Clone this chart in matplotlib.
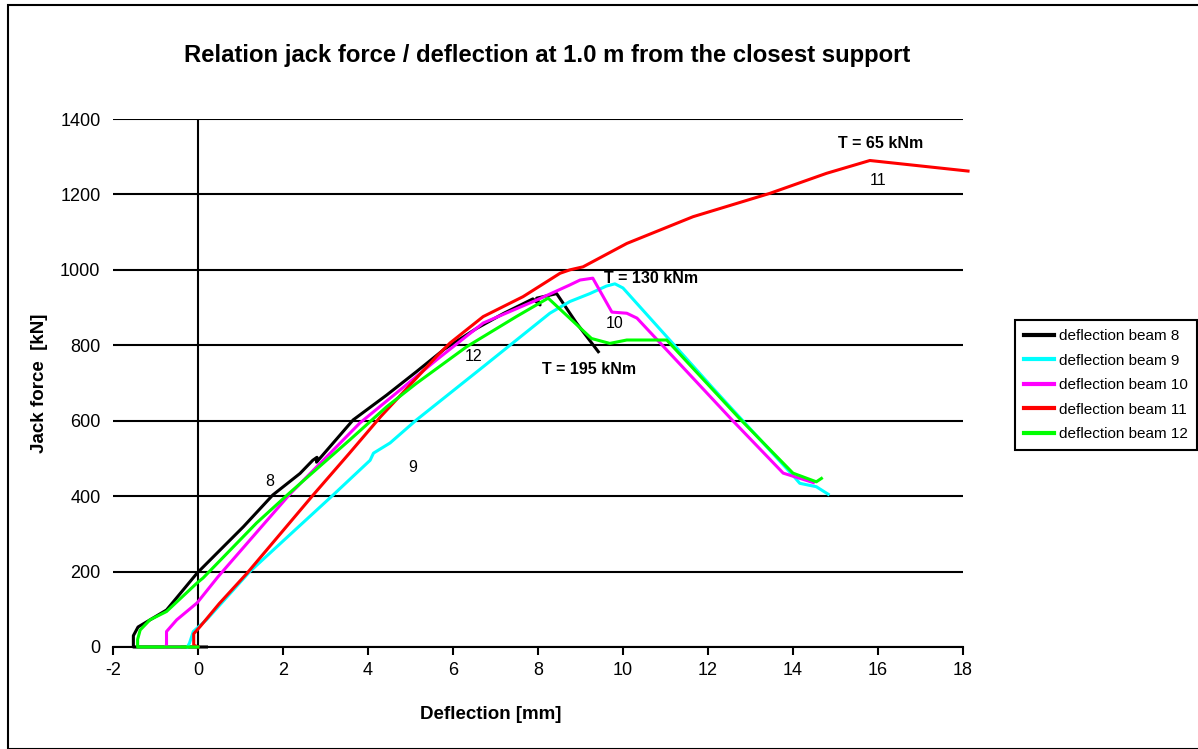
"""Jack force versus deflection at 1.0 m from the closest support, beams 8-12."""

import matplotlib.pyplot as plt
from matplotlib.patches import Rectangle

plt.rcParams["font.family"] = ["Liberation Sans", "DejaVu Sans"]
plt.rcParams["axes.unicode_minus"] = False

# deflection [mm] / jack force [kN]
beam8_x = [0.2, -1.52, -1.52, -1.41, -0.74, -0.02, 0.44, 1.07, 1.76, 2.4, 2.7, 2.8, 2.79,
           3.65, 4.44, 5.14, 5.8, 6.56, 7.2, 7.88, 8.05, 7.97, 8.44, 8.9, 9.42]
beam8_y = [0, 0, 30, 53, 98, 196, 248, 319, 403, 460, 495, 503, 490,
           602, 668, 730, 790, 845, 885, 923, 907, 925, 937, 860, 783]

beam9_x = [-0.25, -0.2, -0.11, 0.2, 1.22, 3.18, 4.05, 4.13, 4.52, 5.14, 6.71, 8.28, 8.75,
           9.22, 9.61, 9.81, 10.0, 12.12, 14.0, 14.16, 14.55, 14.83]
beam9_y = [0, 10, 41, 72, 200, 403, 495, 514, 541, 602, 743, 885, 916,
           937, 957, 963, 952, 686, 455, 434, 425, 405]

beam10_x = [-0.45, -0.78, -0.74, -0.74, -0.5, -0.02, 0.47, 2.16, 3.81, 4.47, 5.61, 6.71, 7.97,
            8.75, 8.99, 9.29, 9.74, 10.09, 10.33, 12.55, 13.77, 14.48]
beam10_y = [0, 0, 5, 41, 72, 117, 186, 405, 594, 655, 761, 859, 920,
            960, 973, 978, 888, 885, 872, 604, 461, 436]

beam11_x = [0.0, -0.1, -0.1, 0.05, 0.5, 1.15, 2.71, 3.55, 4.3, 5.61, 5.93, 6.71, 7.65, 8.52,
            8.75, 9.06, 10.09, 11.65, 13.46, 14.79, 15.81, 18.12]
beam11_y = [0, 5, 35, 54, 115, 195, 403, 512, 611, 770, 806, 876, 929, 991,
            1000, 1008, 1070, 1141, 1203, 1256, 1290, 1262]

beam12_x = [0.0, -1.42, -1.42, -1.36, -1.13, -0.74, -0.02, 0.12, 1.38, 2.12, 3.58, 4.44, 5.14,
            6.32, 7.49, 8.24, 9.26, 9.69, 10.09, 11.03, 12.75, 14.0, 14.55, 14.67]
beam12_y = [0, 0, 20, 45, 72, 94, 170, 183, 329, 405, 550, 637, 699,
            796, 876, 925, 818, 805, 814, 814, 605, 461, 438, 447]

series = [
    ("deflection beam 8", beam8_x, beam8_y, "#000000"),
    ("deflection beam 9", beam9_x, beam9_y, "#00FFFF"),
    ("deflection beam 10", beam10_x, beam10_y, "#FF00FF"),
    ("deflection beam 11", beam11_x, beam11_y, "#FF0000"),
    ("deflection beam 12", beam12_x, beam12_y, "#00FF00"),
]

beam_labels = ["8", "9", "12", "10", "11"]
beam_label_x = [1.69, 5.06, 6.49, 9.81, 16.0]
beam_label_y = [438, 477, 769, 859, 1236]

moment_labels = ["T = 130 kNm", "T = 195 kNm", "T = 65 kNm"]
moment_x = [10.66, 9.2, 16.07]
moment_y = [976, 735, 1334]

x_ticks = list(range(-2, 19, 2))
y_ticks = list(range(0, 1401, 200))


def main() -> None:
    fig = plt.figure(figsize=(11.98, 7.49), dpi=100)
    ax = fig.add_axes([0.0943, 0.1362, 0.7095, 0.7049])

    for label, xs, ys, color in series:
        ax.plot(xs, ys, color=color, linewidth=2.2, label=label, clip_on=False, zorder=3)

    ax.set_xlim(-2, 18)
    ax.set_ylim(0, 1400)
    ax.set_xticks(x_ticks)
    ax.set_yticks(y_ticks)

    for spine in ("left", "top", "right"):
        ax.spines[spine].set_visible(False)
    ax.spines["bottom"].set_linewidth(1.5)
    ax.yaxis.grid(True, color="black", linewidth=1.5)
    ax.set_axisbelow(True)
    ax.axvline(0, color="black", linewidth=1.5, zorder=2)

    ax.tick_params(axis="x", direction="out", length=6, width=1.5, labelsize=13, pad=5)
    ax.tick_params(axis="y", length=0, labelsize=13, pad=9)

    for text, x, y in zip(beam_labels, beam_label_x, beam_label_y):
        ax.text(x, y, text, fontsize=11.5, ha="center", va="center")
    for text, x, y in zip(moment_labels, moment_x, moment_y):
        ax.text(x, y, text, fontsize=11.5, fontweight="bold", ha="center", va="center")

    ax.set_xlabel("Deflection [mm]", fontsize=13.5, fontweight="bold")
    ax.xaxis.set_label_coords(0.4447, -0.111)
    ax.set_ylabel("Jack force  [kN]", fontsize=13.5, fontweight="bold")
    ax.yaxis.set_label_coords(-0.076, 0.5)
    fig.text(0.4566, 0.926, "Relation jack force / deflection at 1.0 m from the closest support",
             fontsize=17.2, fontweight="bold", ha="center", va="center")

    legend = ax.legend(loc="upper left", bbox_to_anchor=(0.847, 0.573),
                       bbox_transform=fig.transFigure, borderaxespad=0, fancybox=False,
                       edgecolor="black", framealpha=1, fontsize=11, handlelength=2.0,
                       handletextpad=0.3, labelspacing=0.69, borderpad=0.6)
    legend.get_frame().set_linewidth(1.5)
    for handle in legend.get_lines():
        handle.set_linewidth(3.0)

    fig.patches.append(Rectangle((8 / 1198, 0), 1.2, 1 - 5 / 749, transform=fig.transFigure,
                                 fill=False, edgecolor="black", linewidth=1.5))

    fig.savefig("out.png", dpi=100, facecolor="white")
    plt.close(fig)


if __name__ == "__main__":
    main()
